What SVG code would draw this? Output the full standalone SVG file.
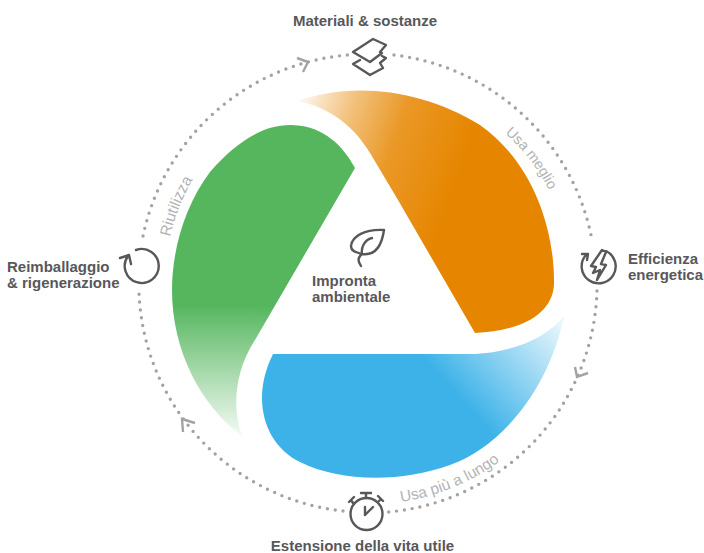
<svg xmlns="http://www.w3.org/2000/svg" width="704" height="553" viewBox="0 0 704 553">
<style>
.lbl{font-family:"Liberation Sans",Arial,sans-serif;font-weight:700;font-size:15px;fill:#58585a}
.arc{font-family:"Liberation Sans",Arial,sans-serif;font-size:15.5px;fill:#b3b3b3}
.dots{fill:none;stroke:#a3a3a3;stroke-width:3.4;stroke-linecap:round;stroke-dasharray:0 7.9}
.chev{fill:none;stroke:#a3a3a3;stroke-width:2.4}
.ico{fill:none;stroke:#58585a;stroke-width:2.4;stroke-linejoin:round;stroke-linecap:round}
</style>
<defs>
<linearGradient id="go" gradientUnits="userSpaceOnUse" x1="298" y1="95" x2="465" y2="155"><stop offset="0" stop-color="#e68600" stop-opacity=".03"/><stop offset=".3" stop-color="#e68600" stop-opacity=".5"/><stop offset=".6" stop-color="#e68600" stop-opacity=".85"/><stop offset="1" stop-color="#e68600"/></linearGradient>
<linearGradient id="gg" gradientUnits="userSpaceOnUse" x1="0" y1="305" x2="0" y2="438"><stop offset="0" stop-color="#55b65e"/><stop offset="1" stop-color="#55b65e" stop-opacity=".05"/></linearGradient>
<linearGradient id="gb" gradientUnits="userSpaceOnUse" x1="470" y1="410" x2="565" y2="325"><stop offset="0" stop-color="#3cb2e8"/><stop offset="1" stop-color="#3cb2e8" stop-opacity=".1"/></linearGradient>
<path id="pMeglio" d="M505,133 A204,204 0 0 1 572,283"/>
<path id="pLungo" d="M401,502 A222,222 0 0 0 540,423"/>
<path id="pRiut" d="M170,237 A205,205 0 0 1 300,90"/>
</defs>
<rect width="704" height="553" fill="#fff"/>
<g id="connectors">
<path class="dots" d="M394,55 A229,229 0 0 1 592,240"/>
<path class="dots" d="M597,291 A229,229 0 0 1 388,512"/>
<path class="dots" d="M343,511 A229,229 0 0 1 139,293"/>
<path class="dots" d="M143,236 A229,229 0 0 1 348,55"/>
<path class="chev" d="M297,58 L308,62 L303,72"/>
<path class="chev" d="M575,367 L577,377 L588,373"/>
<path class="chev" d="M195,423 L182,419 L183,432"/>
</g>
<g id="petal-orange"><path fill="url(#go)" d="M298,101 C350,82 420,88 480,125 C530,160 555,225 554,285 C552,315 520,331 475,333 L398,200 L370,153 C355,128 332,108 298,101Z"/></g>
<g id="petal-green"><path fill="url(#gg)" d="M355,168 C340,140 318,125 290,125 C262,125 235,143 210,172 C185,205 172,250 172,290 C172,350 200,405 243,437 C233,415 232,375 255,340 Z"/></g>
<g id="petal-blue"><path fill="url(#gb)" d="M273,354 L475,354 C510,352 545,340 564,316 C550,385 505,445 450,465 C400,483 340,482 300,462 C265,445 250,400 273,354Z"/></g>
<g id="node-materiali">
<text class="lbl" x="365" y="26" text-anchor="middle">Materiali &amp; sostanze</text>
<path class="ico" d="M353,52 L373,39 L386,45 L380,52 L382,53 L370,62 Z"/>
<path class="ico" d="M360,60 L353,64 L370,75 L383,68 L380,63 L386,58 L382,56"/>
</g>
<g id="node-efficienza">
<text class="lbl"><tspan x="628" y="264">Efficienza</tspan><tspan x="628" y="280">energetica</tspan></text>
<path class="ico" d="M586,255 A17,17 0 1 0 606,251 M582,254 L588,254 L587,260"/>
<path class="ico" d="M602,250 L591,266 L596,267 L593,273 L600,270 L597,280 L606,265 L601,264 L606,252 Z"/>
</g>
<g id="node-estensione">
<text class="lbl" x="362.500" y="551" text-anchor="middle">Estensione della vita utile</text>
<circle class="ico" cx="366.500" cy="514" r="16"/>
<path class="ico" d="M366,498 L366,493 M361,493 L371,493 M353,503 L351,500 M349,502 L354,497 M379,501 L381,499 M378,496 L383,501 M365,515 L365,507 M365,515 L373,507"/>
</g>
<g id="node-reimballaggio">
<text class="lbl"><tspan x="7" y="272">Reimballaggio</tspan><tspan x="7" y="288">&amp; rigenerazione</tspan></text>
<path class="ico" d="M136,250 A17,17 0 1 1 128,256 M120,258 L129,255 L131,264"/>
</g>
<g id="node-centro">
<text class="lbl"><tspan x="312" y="286">Impronta</tspan><tspan x="312" y="302">ambientale</tspan></text>
<path class="ico" d="M384,230 C365,229 352,236 351,246 C351,251 355,252 362,254 C376,256 382,244 384,230 Z M361,266 C358,261 357,258 362,254 C361,248 364,240 372,238"/>
</g>
<g id="arc-labels">
<text class="arc" font-size="14.500" style="font-size:14.500px"><textPath href="#pMeglio">Usa meglio</textPath></text>
<text class="arc"><textPath href="#pLungo">Usa più a lungo</textPath></text>
<text class="arc"><textPath href="#pRiut">Riutilizza</textPath></text>
</g>
</svg>
